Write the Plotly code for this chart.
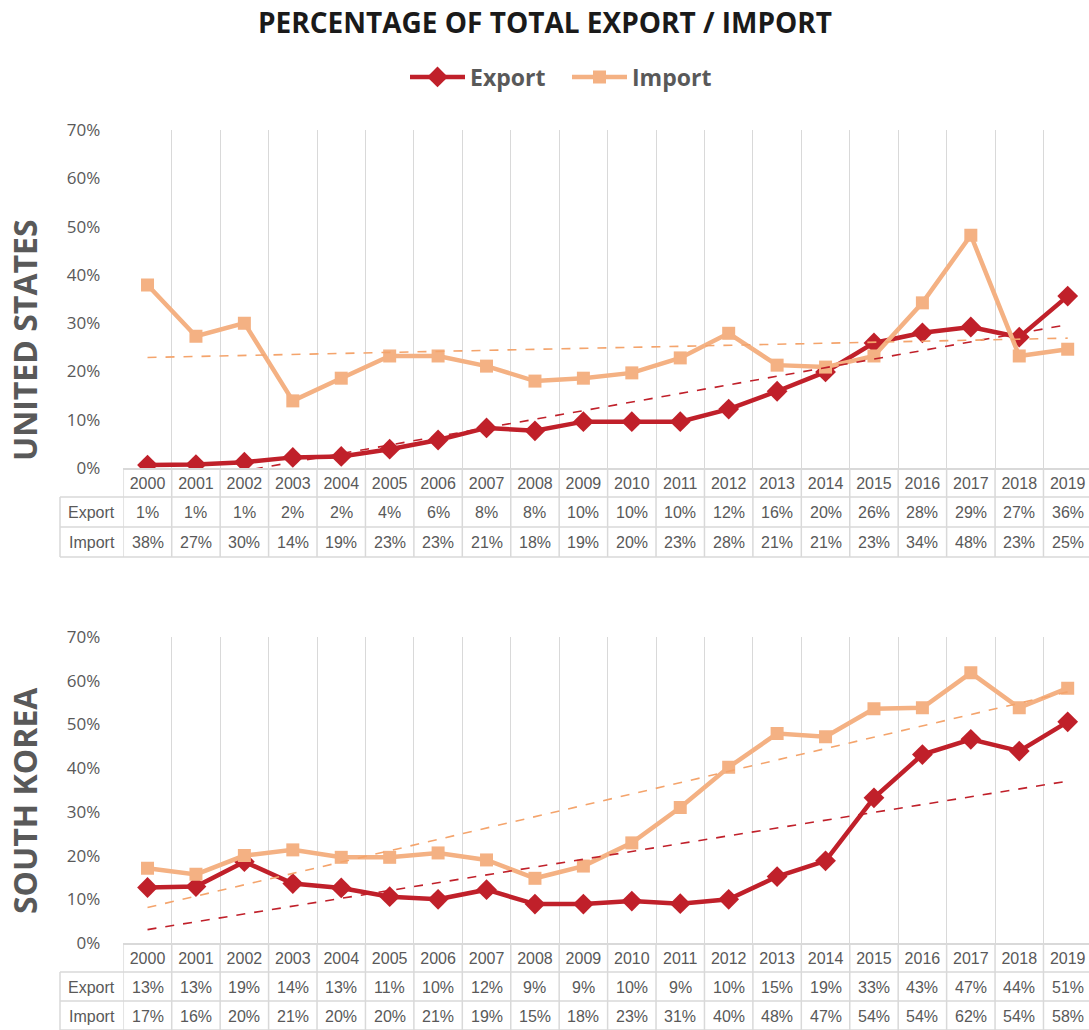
import numpy as np
import plotly.graph_objects as go

years = [str(y) for y in range(2000, 2020)]

us_export = [0.6, 0.7, 1.2, 2.2, 2.4, 3.9, 5.8, 8.3, 7.7, 9.6, 9.6, 9.6, 12.2, 15.9, 19.9, 25.9, 28.0, 29.2, 27.1, 35.6]
us_import = [37.9, 27.3, 30.0, 13.9, 18.6, 23.2, 23.2, 21.1, 18.0, 18.6, 19.7, 22.8, 27.9, 21.3, 20.9, 23.2, 34.2, 48.2, 23.2, 24.6]

kr_export = [12.7, 12.9, 18.6, 13.6, 12.6, 10.6, 10.0, 12.2, 8.9, 8.9, 9.6, 9.0, 10.0, 15.2, 18.8, 33.2, 43.1, 46.6, 43.9, 50.6]
kr_import = [17.1, 15.7, 20.0, 21.3, 19.6, 19.6, 20.6, 19.0, 14.8, 17.6, 22.9, 31.0, 40.2, 47.9, 47.2, 53.6, 53.8, 61.8, 53.8, 58.3]

y_ticks = [0, 10, 20, 30, 40, 50, 60, 70]
panel_titles = ["UNITED STATES", "SOUTH KOREA"]

EXPORT_C = "#C0202A"
IMPORT_C = "#F4B183"
TREND_IMPORT_C = "#F4A46C"
GRID_C = "#D9D9D9"
TEXT_C = "#595959"

W, H = 1089, 1030


def fx(x):
    return x / W


def fy(y):
    return 1 - y / H


X0 = 123.3
panels = [
    dict(top=130, bot=468, rows=[482, 512, 542], lines=[497, 527, 557], tbot=557,
         exp=us_export, imp=us_import, xa="x", ya="y", title_c=340),
    dict(top=637, bot=943, rows=[958, 987, 1016], lines=[972, 1001, 1030], tbot=1030,
         exp=kr_export, imp=kr_import, xa="x2", ya="y2", title_c=801),
]

fig = go.Figure()
idx = np.arange(len(years))
shapes = []
annotations = []
TABLE_FONT = dict(family="Liberation Sans", size=16, color=TEXT_C)

for k, p in enumerate(panels):
    first = (k == 0)
    for name, vals, color, sym, size in [
        ("Export", p["exp"], EXPORT_C, "diamond", 16),
        ("Import", p["imp"], IMPORT_C, "square", 13),
    ]:
        fig.add_trace(go.Scatter(
            x=years, y=vals, name=name, mode="lines+markers",
            line=dict(color=color, width=4.5),
            marker=dict(symbol=sym, size=size, color=color),
            xaxis=p["xa"], yaxis=p["ya"], showlegend=first, legendgroup=name,
        ))
    for vals, tcolor in [(p["exp"], EXPORT_C), (p["imp"], TREND_IMPORT_C)]:
        coef = np.polyfit(idx, vals, 1)
        trend = np.polyval(coef, idx)
        fig.add_trace(go.Scatter(
            x=years, y=trend, mode="lines", line=dict(color=tcolor, width=1.6, dash="dash"),
            xaxis=p["xa"], yaxis=p["ya"], showlegend=False, hoverinfo="skip",
        ))

    xref = p["xa"]
    for i in range(len(years) + 1):
        shapes.append(dict(type="line", xref=xref, yref="paper", x0=i - 0.5, x1=i - 0.5,
                           y0=fy(p["bot"]), y1=fy(p["tbot"]), line=dict(color=GRID_C, width=1.5)))
    shapes.append(dict(type="line", xref="paper", yref="paper", x0=fx(60), x1=fx(60),
                       y0=fy(p["lines"][0]), y1=fy(p["tbot"]), line=dict(color=GRID_C, width=1.5)))
    for ln in p["lines"]:
        shapes.append(dict(type="line", xref="paper", yref="paper", x0=fx(60), x1=1,
                           y0=fy(ln), y1=fy(ln), line=dict(color=GRID_C, width=1.5)))
    for r, (name, vals) in enumerate([("Export", p["exp"]), ("Import", p["imp"])]):
        yy = fy(p["rows"][r + 1])
        annotations.append(dict(text=name, xref="paper", yref="paper", x=fx(91.5), y=yy,
                                showarrow=False, xanchor="center", yanchor="middle", font=TABLE_FONT))
        for i, v in enumerate(vals):
            annotations.append(dict(text="%.0f%%" % v, xref=xref, yref="paper", x=i, y=yy,
                                    showarrow=False, xanchor="center", yanchor="middle", font=TABLE_FONT))
    annotations.append(dict(text=panel_titles[k], xref="paper", yref="paper", x=fx(24), y=fy(p["title_c"]),
                            showarrow=False, textangle=-90, xanchor="center", yanchor="middle",
                            font=dict(family="Open Sans", size=32, color=TEXT_C, weight="bold")))

axis_common_x = dict(type="category", tickson="boundaries", showgrid=True, gridcolor=GRID_C, gridwidth=1,
                     showline=True, linecolor=GRID_C, linewidth=1.5, ticks="", range=[-0.5, 19.44],
                     tickfont=TABLE_FONT, fixedrange=True, domain=[fx(X0), 1])
axis_common_y = dict(range=[0, 70], tickvals=y_ticks, ticktext=["%d%%" % t for t in y_ticks],
                     showgrid=False, zeroline=False, showline=False, ticks="",
                     tickfont=dict(family="Open Sans", size=17, color=TEXT_C), ticklabelstandoff=22,
                     fixedrange=True)

fig.update_layout(
    width=W, height=H,
    margin=dict(l=0, r=0, t=0, b=0, autoexpand=False),
    paper_bgcolor="white", plot_bgcolor="white",
    title=dict(text="PERCENTAGE OF TOTAL EXPORT / IMPORT", x=fx(545), xanchor="center",
               y=fy(23), yanchor="middle", automargin=False,
               font=dict(family="Open Sans", size=28, color="#1A1A1A", weight="bold")),
    legend=dict(orientation="h", x=fx(405), xanchor="left", y=fy(77), yanchor="middle",
                font=dict(family="Open Sans", size=23, color=TEXT_C, weight="bold"),
                itemwidth=55, entrywidth=92, entrywidthmode="pixels", tracegroupgap=0),
    xaxis=dict(axis_common_x, anchor="y"),
    yaxis=dict(axis_common_y, anchor="x", domain=[fy(panels[0]["bot"]), fy(panels[0]["top"])]),
    xaxis2=dict(axis_common_x, anchor="y2"),
    yaxis2=dict(axis_common_y, anchor="x2", domain=[fy(panels[1]["bot"]), fy(panels[1]["top"])]),
    shapes=shapes, annotations=annotations,
    showlegend=True,
)

fig.write_html("out.html", config={"displayModeBar": False},
               post_script="document.body.style.margin='0';document.body.style.overflow='hidden';")
